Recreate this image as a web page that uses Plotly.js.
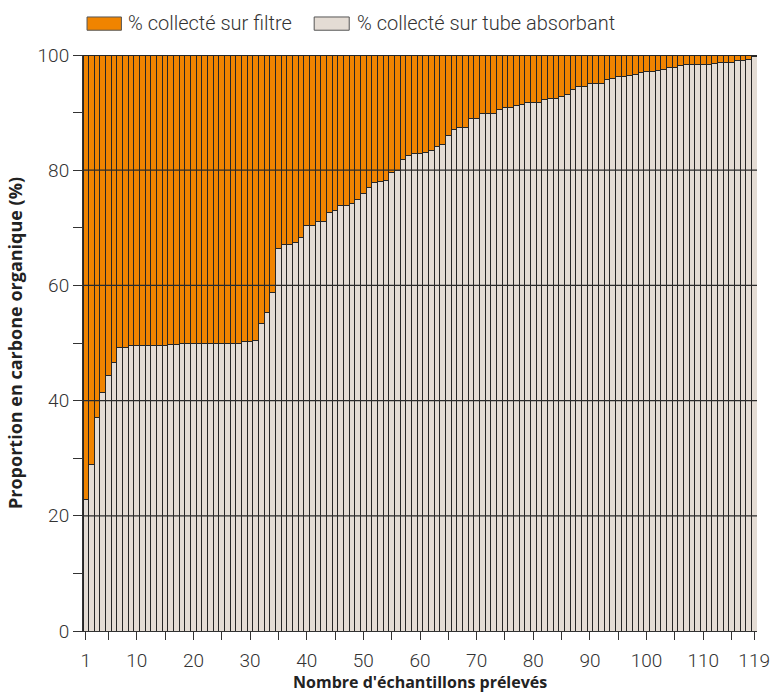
<!DOCTYPE html>
<html>
<head>
<meta charset="utf-8">
<script src="https://cdn.plot.ly/plotly-3.0.1.min.js"></script>
<style>html,body{margin:0;padding:0;background:#fff;}#chart{width:770px;height:695px;}</style>
</head>
<body>
<div id="chart"></div>
<script>
// Sample numbers 1..119
const samples = [];
for (let i = 1; i <= 119; i++) samples.push(i);

const tubePct = [
  22.9, 28.9, 37.0, 41.4, 44.4, 46.6, 49.2, 49.3, 49.5, 49.6,
  49.6, 49.6, 49.6, 49.6, 49.6, 49.8, 49.8, 49.9, 49.9, 49.9,
  49.9, 50.0, 50.0, 50.0, 50.0, 50.0, 50.0, 50.0, 50.2, 50.3,
  50.5, 53.4, 55.3, 58.7, 66.4, 67.1, 67.1, 67.5, 68.3, 70.4,
  70.4, 71.1, 71.1, 72.6, 73.0, 73.9, 73.9, 74.2, 74.9, 76.0,
  77.0, 77.9, 78.1, 78.2, 79.6, 79.9, 81.9, 82.6, 82.9, 82.9,
  83.1, 83.4, 84.2, 84.5, 86.0, 87.1, 87.4, 87.4, 88.9, 88.9,
  89.8, 89.9, 89.9, 90.6, 90.8, 90.9, 91.2, 91.4, 91.7, 91.8,
  91.8, 92.2, 92.5, 92.5, 92.8, 93.2, 94.0, 94.6, 94.6, 95.0,
  95.0, 95.1, 95.8, 95.9, 96.2, 96.3, 96.5, 96.7, 96.9, 97.2,
  97.2, 97.3, 97.5, 97.8, 97.8, 98.1, 98.4, 98.4, 98.4, 98.4,
  98.4, 98.5, 98.7, 98.7, 98.7, 99.1, 99.1, 99.3, 99.7
];
// % collected on filter (orange, top) = remainder to 100 %
const filterPct = tubePct.map(v => +(100 - v).toFixed(1));

const seriesNames = ["% collecté sur filtre", "% collecté sur tube absorbant"];
const xTitle = "Nombre d'échantillons prélevés";
const yTitle = "Proportion en carbone organique (%)";
const xTickVals = [1,5,10,15,20,25,30,35,40,45,50,55,60,65,70,75,80,85,90,95,100,105,110,115,119];
const xTickText = ["1","","10","","20","","30","","40","","50","","60","","70","","80","","90","","100","","110","","119"];
const yTickVals = [0,10,20,30,40,50,60,70,80,90,100];
const yTickText = ["0","","20","","40","","60","","80","","100"];
const gridVals = [20,40,60,80];

const colFilter = "#F08400";
const colTube = "#E4DCD4";
const edge = "#262626";
const font = "Roboto, 'DejaVu Sans', sans-serif";
const tfont = "'Open Sans', sans-serif";

const traces = [
  {type:"bar", x:samples, y:tubePct, name:seriesNames[1],
   marker:{color:colTube, line:{color:edge, width:1}}, hoverinfo:"x+y"},
  {type:"bar", x:samples, y:filterPct, name:seriesNames[0],
   marker:{color:colFilter, line:{color:edge, width:1}}, hoverinfo:"x+y"}
];

const shapes = gridVals.map(v => ({type:"line", xref:"paper", x0:0, x1:1, yref:"y", y0:v, y1:v,
  line:{color:"#2b2b2b", width:1.2}, layer:"above"}));
// legend swatches
shapes.push({type:"rect", xref:"paper", yref:"paper", x0:0.006, x1:0.057, y0:1.043, y1:1.066,
  fillcolor:colFilter, line:{color:"#555", width:1}});
shapes.push({type:"rect", xref:"paper", yref:"paper", x0:0.343, x1:0.395, y0:1.043, y1:1.066,
  fillcolor:colTube, line:{color:"#555", width:1}});

const annotations = [
  {xref:"paper", yref:"paper", x:0.064, y:1.055, xanchor:"left", yanchor:"middle", showarrow:false,
   text:seriesNames[0], font:{family:font, size:20, color:"#333", weight:300}},
  {xref:"paper", yref:"paper", x:0.404, y:1.055, xanchor:"left", yanchor:"middle", showarrow:false,
   text:seriesNames[1], font:{family:font, size:20, color:"#333", weight:300}},
  {xref:"paper", yref:"paper", x:0.5, y:-0.089, xanchor:"center", yanchor:"middle", showarrow:false,
   text:xTitle, font:{family:tfont, size:16, color:"#222", weight:"bold"}}
];

const layout = {
  width:770, height:695,
  margin:{l:83, r:13, t:55, b:64},
  paper_bgcolor:"#fff", plot_bgcolor:"#fff",
  barmode:"stack", bargap:0,
  showlegend:false,
  font:{family:font, color:"#333"},
  xaxis:{range:[0.5,119.5], tickmode:"array", tickvals:xTickVals, ticktext:xTickText,
    ticks:"outside", ticklen:8, tickcolor:"#333", showgrid:false, zeroline:false,
    showline:true, linecolor:"#333", linewidth:1, ticklabelstandoff:4,
    tickfont:{family:font, size:19, color:"#333", weight:300}},
  yaxis:{range:[0,100], tickmode:"array", tickvals:yTickVals, ticktext:yTickText,
    ticks:"outside", ticklen:9, tickcolor:"#333", showgrid:false, zeroline:false,
    showline:true, linecolor:"#333", linewidth:1,
    tickfont:{family:font, size:19, color:"#333", weight:300},
    title:{text:yTitle, standoff:10,
      font:{family:tfont, size:18, color:"#222", weight:"bold"}}},
  shapes:shapes,
  annotations:annotations
};

Plotly.newPlot("chart", traces, layout, {displayModeBar:false, staticPlot:true});
</script>
</body>
</html>
